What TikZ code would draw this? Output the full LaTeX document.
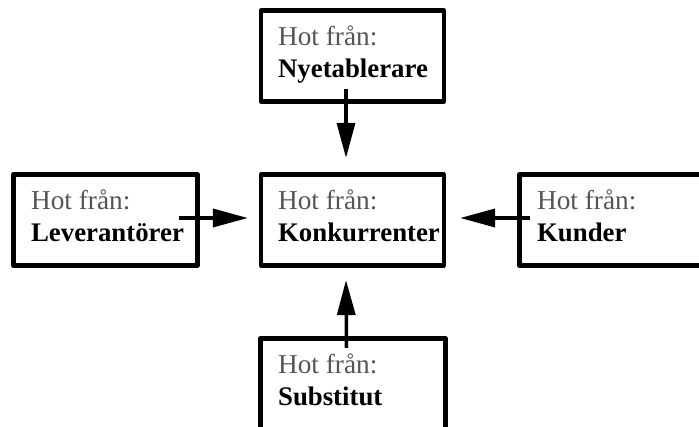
\documentclass[tikz,border=0pt]{standalone}
\usepackage{fontspec}
\setmainfont{Liberation Serif}
\usetikzlibrary{arrows.meta}
\definecolor{hotgray}{RGB}{85,85,85}
\tikzset{
  box/.style={draw=black, line width=4.2pt, line join=round, rectangle, inner sep=0pt, fill=white},
  hot/.style={anchor=base west, inner sep=0pt, text=hotgray, font=\fontsize{27.3}{30}\selectfont},
  who/.style={anchor=base west, inner sep=0pt, text=black, font=\fontsize{26.8}{30}\selectfont\bfseries},
  arr/.style={line width=3.5pt, -{Triangle[length=35pt,width=18pt]}}
}
\begin{document}
\begin{tikzpicture}
\useasboundingbox (0,0) rectangle (699pt,-427pt);
\clip (0,0) rectangle (699pt,-427pt);
% boxes
\node[box, minimum width=183pt, minimum height=91pt] (top) at (352.5pt,-56pt) {};
\node[box, minimum width=183pt, minimum height=91pt] (mid) at (352.5pt,-220pt) {};
\node[box, minimum width=184pt, minimum height=91pt] (lft) at (105.5pt,-220pt) {};
\node[box, minimum width=184pt, minimum height=91pt] (rgt) at (611.5pt,-220pt) {};
\node[box, minimum width=185pt, minimum height=97pt] (bot) at (353pt,-387pt) {};
% texts
\node[hot] (topA) at ([shift={(19pt,-37.5pt)}]top.north west) {Hot från:};
\node[who] (topB) at ([shift={(19pt,-69pt)}]top.north west) {Nyetablerare};
\node[hot] (midA) at ([shift={(19pt,-37.5pt)}]mid.north west) {Hot från:};
\node[who] (midB) at ([shift={(19pt,-69pt)}]mid.north west) {Konkurrenter};
\node[hot] (lftA) at ([shift={(19.5pt,-37.5pt)}]lft.north west) {Hot från:};
\node[who] (lftB) at ([shift={(19.5pt,-69pt)}]lft.north west) {Leverantörer};
\node[hot] (rgtA) at ([shift={(19.5pt,-37.5pt)}]rgt.north west) {Hot från:};
\node[who] (rgtB) at ([shift={(19.5pt,-69pt)}]rgt.north west) {Kunder};
\node[hot] (botA) at ([shift={(19.5pt,-37.5pt)}]bot.north west) {Hot från:};
\node[who] (botB) at ([shift={(19.5pt,-69pt)}]bot.north west) {Substitut};
% arrows
\draw[arr] ([shift={(-6.5pt,14.5pt)}]top.south) -- ([shift={(-6.5pt,14.5pt)}]mid.north);
\draw[arr] ([shift={(-20.5pt,2pt)}]lft.east) -- ([shift={(-11pt,2pt)}]mid.west);
\draw[arr] ([shift={(12.5pt,2pt)}]rgt.west) -- ([shift={(14pt,2pt)}]mid.east);
\draw[arr] ([shift={(-6.5pt,-11.5pt)}]bot.north) -- ([shift={(-6.5pt,-12.5pt)}]mid.south);
\end{tikzpicture}
\end{document}
